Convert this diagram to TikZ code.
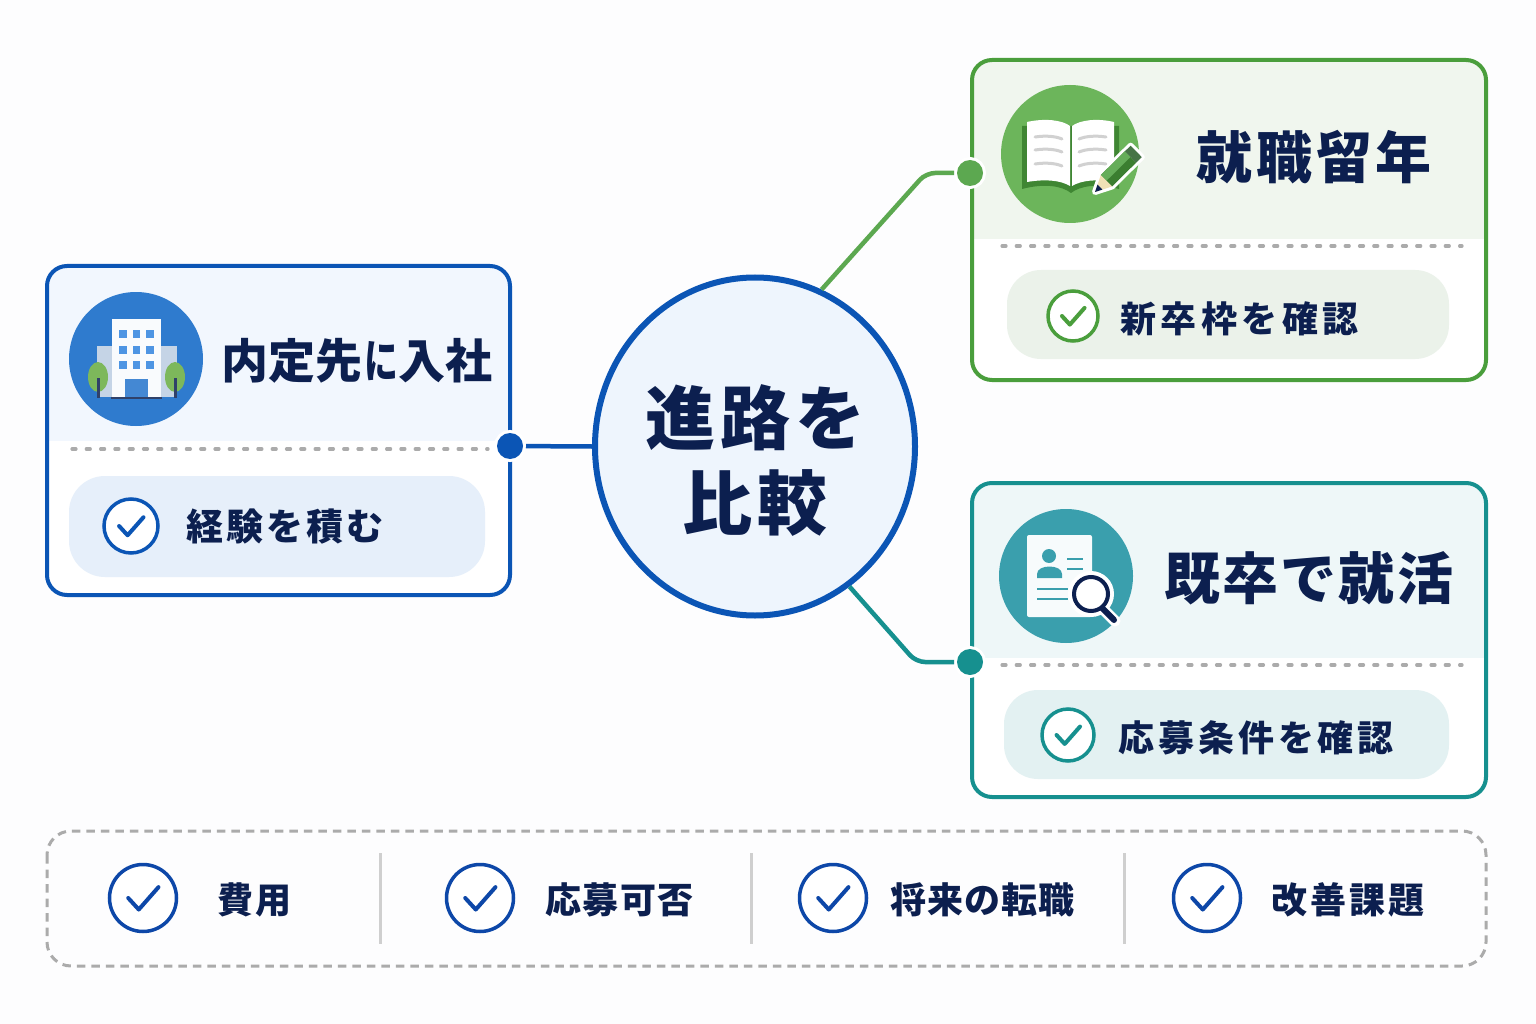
\documentclass[tikz,border=0pt]{standalone}
\usepackage{fontspec}
\usepackage{graphicx}
\usetikzlibrary{shapes.geometric}
\setmainfont{Noto Sans CJK JP}
\definecolor{bgc}{HTML}{FDFDFE}
\definecolor{navy}{HTML}{0C1F4F}
\definecolor{blu}{HTML}{0B55B5}
\definecolor{bluetint}{HTML}{F2F7FE}
\definecolor{bluepill}{HTML}{E6EFFA}
\definecolor{bluei}{HTML}{2F7BCE}
\definecolor{win}{HTML}{4E95E3}
\definecolor{leaf}{HTML}{7DB85B}
\definecolor{wing}{HTML}{C5D4E6}
\definecolor{grn}{HTML}{4A9E3C}
\definecolor{grntint}{HTML}{F0F6EE}
\definecolor{grnpill}{HTML}{EBF2EA}
\definecolor{grni}{HTML}{6CB55B}
\definecolor{tel}{HTML}{16908F}
\definecolor{teltint}{HTML}{EEF7F8}
\definecolor{telpill}{HTML}{E3F1F2}
\definecolor{teli}{HTML}{3A9FAD}
\definecolor{chkb}{HTML}{0D47A8}
\definecolor{dashg}{HTML}{ABABAB}
\definecolor{sepg}{HTML}{CFCFCF}
\definecolor{hubfill}{HTML}{EEF5FD}
\tikzset{
 x=1pt,y=-1pt,
 lbl/.style={anchor=west,inner sep=0pt,text=navy,font=\bfseries},
 dotnode/.style={circle,inner sep=0pt,minimum size=26pt,draw=white,line width=6pt},
 dashline/.style={dashg,line width=3.2pt,line cap=round,dash pattern=on 4pt off 10.3pt},
 link/.style={line width=4.5pt,rounded corners=9pt},
}
% name, size, letterspace, x, y, text
\newcommand{\lab}[6]{\node[lbl] (#1) at (#4,#5) {\fontsize{#2}{#2}\selectfont\addfontfeature{LetterSpace=#3}#6};}
% x1,y1,x2,y2,splitY,dashY,colour,tint,name
\newcommand{\cardbox}[9]{%
 \fill[white,rounded corners=20pt] (#1,#2) rectangle (#3,#4);
 \begin{scope}
  \clip[rounded corners=20pt] (#1,#2) rectangle (#3,#4);
  \fill[#8] (#1,#2) rectangle (#3,#5);
 \end{scope}
 \draw[#7,line width=4pt,rounded corners=20pt] (#1,#2) rectangle (#3,#4);
 \coordinate (#9) at (#1,#2);
}
% name,x,y,r,colour,lw
\newcommand{\chk}[6]{%
 \node[circle,draw=#5,fill=white,line width=#6pt,minimum size=2*#4pt,inner sep=0pt] (#1) at (#2,#3) {};
 \pgfmathsetmacro{\ckS}{#4/34}
 \draw[#5,line width=#6pt+0.5pt,line cap=round,line join=round,shift={(#2,#3)},scale=\ckS] (-15,0) -- (-4.3,11.7) -- (15.7,-11);
}
\begin{document}
\begin{tikzpicture}
\useasboundingbox (0,0) rectangle (1536,1024);
\fill[bgc] (0,0) rectangle (1536,1024);

% ---- hub
\node[ellipse,draw=blu,fill=hubfill,line width=6pt,minimum width=320pt,minimum height=338pt,inner sep=0pt] (hub) at (755,446.5) {};
\lab{hubA}{70}{7.5}{645}{418}{進路を}
\lab{hubB}{70}{7}{682}{503}{比較}

% ---- left card
\cardbox{47}{266}{510}{595}{441}{449}{blu}{bluetint}{cardL}
\draw[dashline] (72,449) -- (488,449);
\fill[bluepill,rounded corners=36pt] (69,476) rectangle (485,577);
\chk{ckL}{131}{526}{27}{blu}{3.5}
\lab{tL}{47}{0}{221}{361}{内定先\kern2pt\scalebox{0.72}[1]{に}入社}
\lab{sL}{37}{8}{186}{527}{経験を積む}
% building icon
\fill[bluei] (136,359) circle[radius=67];
\fill[wing] (97,346) rectangle (177,397);
\fill[white!97!bluei] (112,319) rectangle (161,398);
\foreach \wy in {330,345.5,361} \foreach \wx in {119,132.5,146} \fill[win] (\wx,\wy) rectangle ++(7.5,8);
\fill[bluei!90!white] (125,379) rectangle (148,398);
\draw[navy!85,line width=2.5pt] (111,398) -- (162,398);
\fill[leaf] (98,377) ellipse[x radius=10,y radius=15];
\fill[leaf] (175,377) ellipse[x radius=10,y radius=15];
\draw[navy!85,line width=3pt] (98,378) -- (98,398) (175,378) -- (175,398);

% ---- green card
\cardbox{972}{60}{1486}{380}{239}{246}{grn}{grntint}{cardG}
\draw[dashline] (1002,246) -- (1462,246);
\fill[grnpill,rounded corners=34pt] (1007,270) rectangle (1449,359);
\chk{ckG}{1073}{316}{25}{grn}{3.5}
\lab{tG}{56}{7}{1196}{157}{就職留年}
\lab{sG}{36}{12.5}{1120}{319}{新卒枠を確認}
% book icon
\fill[grni] (1070,154) circle[radius=69];
\fill[grn!85!black] (1022,126) -- (1022,189) .. controls (1045,183) and (1062,186) .. (1071,193) .. controls (1080,186) and (1097,183) .. (1119,189) -- (1119,126) -- cycle;
\fill[white] (1027,122) .. controls (1045,118) and (1062,120) .. (1070,126) -- (1070,186) .. controls (1060,180) and (1045,179) .. (1027,182) -- cycle;
\fill[white] (1072,126) .. controls (1080,120) and (1097,118) .. (1114,122) -- (1114,182) .. controls (1097,179) and (1082,180) .. (1072,186) -- cycle;
\foreach \ly in {137,150,164} {
 \draw[black!18,line width=3pt,line cap=round] (1035,\ly) .. controls (1045,\ly-1.5) and (1055,\ly-1) .. (1062,\ly+2);
 \draw[black!18,line width=3pt,line cap=round] (1079,\ly+2) .. controls (1086,\ly-1) and (1096,\ly-1.5) .. (1106,\ly);
}
% pencil
\draw[white,fill=white,line width=6pt,line join=round] (1095,192) -- (1112,186.5) -- (1141.8,157.1) -- (1130.6,145.7) -- (1100.8,175.1) -- cycle;
\fill[grn!80!black] (1112,186.5) -- (1136.1,162.7) -- (1124.9,151.3) -- (1100.8,175.1) -- cycle;
\fill[grn!85!white] (1106.4,180.8) -- (1130.5,157) -- (1124.9,151.3) -- (1100.8,175.1) -- cycle;
\fill[black!60!green!45!gray] (1136.1,162.7) -- (1141.8,157.1) -- (1130.6,145.7) -- (1124.9,151.3) -- cycle;
\fill[yellow!30!brown!35!white] (1095,192) -- (1112,186.5) -- (1100.8,175.1) -- cycle;
\fill[navy] (1095,192) -- (1102.4,189.6) -- (1097.5,184.6) -- cycle;

% ---- teal card
\cardbox{972}{483}{1486}{797}{658}{665}{tel}{teltint}{cardT}
\draw[dashline] (1002,665) -- (1462,665);
\fill[telpill,rounded corners=34pt] (1004,690) rectangle (1449,779);
\chk{ckT}{1068}{735}{26}{tel}{3.5}
\lab{tT}{56}{4}{1164}{578}{既卒で就活}
\lab{sT}{36}{11}{1118}{738}{応募条件を確認}
% résumé icon
\fill[teli] (1066,576) circle[radius=67];
\fill[white!96!teli,rounded corners=2pt] (1027,535) rectangle (1092,617);
\fill[teli] (1049,556) circle[radius=7];
\fill[teli] (1037,578) -- (1037,574) .. controls (1037,564) and (1062,564) .. (1062,574) -- (1062,578) -- cycle;
\draw[teli,line width=2.8pt] (1067,559) -- (1083,559) (1067,569) -- (1083,569) (1037,589) -- (1068,589) (1037,599) -- (1068,599);
\draw[white,line width=11pt,line cap=round] (1102,608) -- (1115,621);
\fill[white] (1091,594) circle[radius=23];
\draw[navy,line width=6pt,line cap=round] (1102,608) -- (1114,620);
\draw[navy,line width=4pt,fill=white] (1091,594) circle[radius=17];

% ---- dots and connectors
\node[dotnode,fill=blu] (dotL) at (510,446) {};
\node[dotnode,fill=grn!90!white] (dotG) at (970,173) {};
\node[dotnode,fill=tel] (dotT) at (970,662) {};
\coordinate (bendG) at (926,173);
\coordinate (bendT) at (916,662);
\draw[blu,line width=4.5pt] (hub.west) -- (dotL);
\draw[link,grn!90!white] (hub.67) -- (bendG) -- (dotG);
\draw[link,tel] (hub.-56) -- (bendT) -- (dotT);
\node[circle,inner sep=0pt,minimum size=26pt,fill=blu] at (dotL) {};
\node[circle,inner sep=0pt,minimum size=26pt,fill=grn!90!white] at (dotG) {};
\node[circle,inner sep=0pt,minimum size=26pt,fill=tel] at (dotT) {};

% ---- bottom strip
\draw[dashg,line width=3pt,dash pattern=on 8.5pt off 6pt,rounded corners=24pt] (47,831) rectangle (1486,966);
\draw[sepg,line width=3pt] (380,853) -- (380,944) (751,853) -- (751,944) (1124,853) -- (1124,944);
\chk{c1}{143}{898}{33.5}{chkb}{3.5}
\chk{c2}{480}{898}{33.5}{chkb}{3.5}
\chk{c3}{833}{898}{33.5}{chkb}{3.5}
\chk{c4}{1207}{898}{33.5}{chkb}{3.5}
\lab{b1}{36}{6}{217}{900}{費用}
\lab{b2}{36}{4}{545}{900}{応募可否}
\lab{b3}{36}{3}{890}{900}{将来の転職}
\lab{b4}{36}{9}{1271}{900}{改善課題}
\end{tikzpicture}
\end{document}
